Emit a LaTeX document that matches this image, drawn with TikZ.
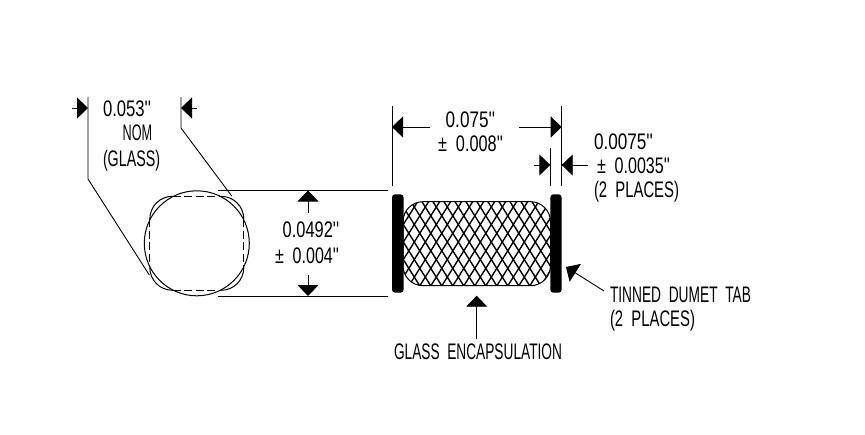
\documentclass[tikz,border=0pt]{standalone}
\usepackage{fontspec}
\usepackage{graphicx}
\usetikzlibrary{arrows.meta}
\newfontfamily\cadfont{Liberation Sans}
\newcommand\fitw[2]{\resizebox{#1pt}{14pt}{\rule{0pt}{14pt}\smash{\cadfont\fontsize{22.5}{24}\selectfont #2}}}
\tikzset{
  line/.style={line width=0.9pt,black},
  dim/.style={line width=0.9pt,black,-{Triangle[length=11pt,width=21pt]}},
  lbl/.style={anchor=base west,inner sep=0pt,outer sep=0pt,text=black,yshift=-0.5pt},
  tab/.style={fill=black,draw=none,rounded corners=3pt},
  outl/.style={line width=1pt,black},
  hatchline/.style={line width=1.4pt,black}
}
\begin{document}
\begin{tikzpicture}[x=1pt,y=-1pt]
\path[use as bounding box,fill=white] (0,0) rectangle (865,434);

% end view
\begin{scope}[shift={(196.8,243.3)}]
  \draw[outl] (0,0) circle [radius=52.5];
  \foreach \sx/\sy in {1/1,-1/1,1/-1,-1/-1}{
    \begin{scope}[xscale=\sx,yscale=\sy]
      \draw[outl] (47,-24) .. controls (47,-37) and (37,-47) .. (24,-47);
    \end{scope}
  }
  \draw[outl,dash pattern=on 8pt off 3.5pt] (-24,-47) -- (24,-47);
  \draw[outl,dash pattern=on 8pt off 3.5pt] (-24,47) -- (24,47);
  \draw[outl,dash pattern=on 8pt off 3.5pt] (-47,-24) -- (-47,24);
  \draw[outl,dash pattern=on 8pt off 3.5pt] (47,-24) -- (47,24);
\end{scope}

% extension lines of the 0.053 dimension
\coordinate (la) at (88,97);  \coordinate (lb) at (88,179);  \coordinate (lc) at (149.3,275);
\coordinate (ra) at (181,97); \coordinate (rb) at (181,128); \coordinate (rc) at (231.7,196);
\draw[line] (la) -- (lb) -- (lc);
\draw[line] (ra) -- (rb) -- (rc);
\coordinate (la0) at (72,108); \coordinate (lat) at (88,108);
\coordinate (ra0) at (197,108); \coordinate (rat) at (181,108);
\draw[dim] (la0) -- (lat);
\draw[dim] (ra0) -- (rat);

% 0.0492 dimension
\coordinate (t1) at (218,190.3); \coordinate (t2) at (388,190.3);
\coordinate (b1) at (218,296); \coordinate (b2) at (388,296);
\draw[line] (t1) -- (t2);
\draw[line] (b1) -- (b2);
\coordinate (ua) at (308,213); \coordinate (ut) at (308,190.5);
\coordinate (da) at (308,275); \coordinate (dt) at (308,296);
\draw[dim] (ua) -- (ut);
\draw[dim] (da) -- (dt);

% body with cross hatch
\begin{scope}
  \clip[rounded corners=20pt] (403,201.7) rectangle (550.5,285.7);
  \foreach \i in {-10,...,20}{
    \draw[hatchline] ({395.2+\i*11},290) -- ({395.2+\i*11+59},196);
    \draw[hatchline] ({396.4+\i*11},196) -- ({396.4+\i*11+59},290);
  }
\end{scope}
\draw[outl,rounded corners=20pt] (403,201.7) rectangle (550.5,285.7);

% tabs
\fill[tab] (392,194.3) rectangle (403.5,292.7);
\fill[tab] (550.3,194.3) rectangle (561.7,292.7);

% top dimensions
\coordinate (e1a) at (392,106); \coordinate (e1b) at (392,186);
\coordinate (e2a) at (561.7,106); \coordinate (e2b) at (561.7,186);
\coordinate (e3a) at (550.3,148); \coordinate (e3b) at (550.3,186);
\draw[line] (e1a) -- (e1b);
\draw[line] (e2a) -- (e2b);
\draw[line] (e3a) -- (e3b);
\coordinate (w1a) at (430,127); \coordinate (w1t) at (392,127);
\coordinate (w2a) at (519,127); \coordinate (w2t) at (561.7,127);
\draw[dim] (w1a) -- (w1t);
\draw[dim] (w2a) -- (w2t);
\coordinate (s1a) at (534,165); \coordinate (s1t) at (550.3,165);
\coordinate (s2a) at (588,165); \coordinate (s2t) at (561.7,165);
\draw[dim] (s1a) -- (s1t);
\draw[dim] (s2a) -- (s2t);

% leaders
\coordinate (ga) at (476.7,339); \coordinate (gt) at (476.7,295.7);
\draw[dim] (ga) -- (gt);
\coordinate (ta) at (604,291); \coordinate (tt) at (566,267);
\draw[dim] (ta) -- (tt);

% labels
\node[lbl] (n1) at (103,116) {\fitw{48}{0.053''}};
\node[lbl] (n2) at (122.7,140) {\fitw{29.5}{NOM}};
\node[lbl] (n3) at (103,166) {\fitw{57}{(GLASS)}};
\node[lbl] (n4) at (445.7,127) {\fitw{49.5}{0.075''}};
\node[lbl] (n5) at (438,151) {\fitw{65}{\textpm\ \ 0.008''}};
\node[lbl] (n6) at (282.7,237) {\fitw{56.5}{0.0492''}};
\node[lbl] (n7) at (275,263) {\fitw{64}{\textpm\ \ 0.004''}};
\node[lbl] (n8) at (594,148.7) {\fitw{59}{0.0075''}};
\node[lbl] (n9) at (597,172.7) {\fitw{73}{\textpm\ \ 0.0035''}};
\node[lbl] (n10) at (594,197) {\fitw{85}{(2\ \ PLACES)}};
\node[lbl] (n11) at (610,302) {\fitw{141}{TINNED\ \ DUMET\ \ TAB}};
\node[lbl] (n12) at (610,326) {\fitw{85}{(2\ \ PLACES)}};
\node[lbl] (n13) at (394,359) {\fitw{168}{GLASS\ \ ENCAPSULATION}};
\end{tikzpicture}
\end{document}
